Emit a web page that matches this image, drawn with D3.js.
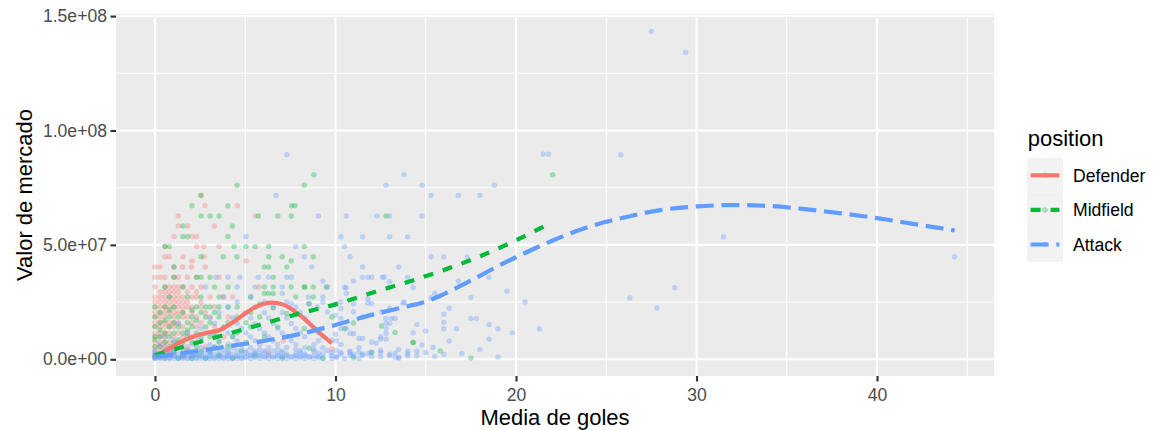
<!DOCTYPE html>
<html>
<head>
<meta charset="utf-8">
<script src="https://cdn.jsdelivr.net/npm/d3@7"></script>
<style>
  body { margin: 0; background: #fff; }
  text { font-family: "Liberation Sans", Arial, sans-serif; }
</style>
</head>
<body>
<svg id="chart" width="1153" height="430"></svg>
<script>
// categories and colours
const positions = ["Defender", "Midfield", "Attack"];
const colors = ["#F8766D", "#00BA38", "#619CFF"];
const dashes = [null, "10,10", "18,7.7"];

// axis ticks
const xTicks = [0, 10, 20, 30, 40];
const xMinor = [5, 15, 25, 35, 45];
const yTicks = [0, 5e7, 1e8, 1.5e8];
const yMinor = [2.5e7, 7.5e7, 1.25e8];
const yTickLabels = ["0.0e+00", "5.0e+07", "1.0e+08", "1.5e+08"];

// points: [media de goles, valor de mercado en millones]
const defender = [
  [2.55,71.6],[2.77,67.1],[4.56,67.1],[1.29,62.6],[5.54,62.6],[1.29,58.3],[1.81,58.3],[3.29,58.3],
  [1.05,53.7],[2.05,53.7],[2.31,53.7],[0.55,49.3],[2.31,49.3],[2.71,49.3],[3.55,49.3],
  [0.55,44.8],[0.79,44.8],[1.55,44.8],[2.71,44.8],[2.05,43],[5.04,43],
  [0,40.3],[0.28,40.3],[1.05,40.3],[1.53,40.3],[2.03,40.3],[2.79,40.3],
  [0,35.9],[0.28,35.9],[0.55,35.9],[1.05,35.9],[1.29,35.9],[1.8,35.9],[2.3,35.9],[3.55,35.9],
  [0,31.6],[0.55,31.6],[0.8,31.6],[1.05,31.6],[1.3,31.6],[1.55,31.6],[2.05,31.6],[2.55,31.6],[5.76,31.6],
  [0.28,29.5],[0.8,29.5],[1.3,29.5],[1.8,29.5],[0.55,29.5],[1.05,29.5],[2.3,29.5],
  [0,27.2],[0.28,27.2],[0.55,27.2],[0.8,27.2],[1.05,27.2],[1.3,27.2],[1.55,27.2],[2.05,27.2],[2.3,27.2],[3.05,27.2],[3.8,27.2],[4.3,27.2],
  [0,25],[0.55,25],[1.05,25],[1.3,25],[1.8,25],[2.55,25],[0.28,25],[0.8,25],[1.55,25],
  [0,22.9],[0.28,22.9],[0.55,22.9],[0.8,22.9],[1.05,22.9],[1.29,22.9],[1.55,22.9],[1.8,22.9],[2.05,22.9],[2.55,22.9],[3.3,22.9],
  [0,20.5],[0.28,20.5],[0.8,20.5],[1.3,20.5],[2.05,20.5],[2.8,20.5],[0.55,20.5],[1.05,20.5],[1.55,20.5],
  [0,18.5],[0.28,18.5],[0.55,18.5],[1.05,18.5],[1.55,18.5],[1.8,18.5],[2.3,18.5],[3.05,18.5],[4.05,18.5],
  [0,16],[0.55,16],[0.8,16],[1.3,16],[2.05,16],[2.55,16],[0.28,16],[1.05,16],
  [0,14.2],[0.28,14.2],[0.55,14.2],[1.05,14.2],[1.55,14.2],[2.3,14.2],[3.3,14.2],[0.8,14.2],
  [0,11.5],[0.28,11.5],[0.8,11.5],[1.3,11.5],[1.8,11.5],[2.8,11.5],[0.55,11.5],
  [0,9.8],[0.55,9.8],[1.05,9.8],[1.55,9.8],[2.05,9.8],[3.8,9.8],[0.28,9.8],
  [0,7.5],[0.28,7.5],[0.8,7.5],[1.3,7.5],[2.3,7.5],[7.1,8],[0.55,7.5],
  [0,5.5],[0.55,5.5],[1.05,5.5],[1.8,5.5],[2.8,5.5],[0.28,5.5],
  [0,3.5],[0.28,3.5],[0.8,3.5],[1.55,3.5],[2.3,3.5],[6.3,3],
  [0,1.9],[0.55,1.9],[1.05,1.9],[2.05,1.9],[9.8,4.5],
  [0,0.8],[0.28,0.8],[0.8,0.8],[1.55,0.8]
];

const midfield = [
  [4.54,76.1],[2.55,71.6],[2.05,67.1],[4.04,67.1],[7.57,67.1],[7.76,67.1],
  [2.55,62.6],[3.05,62.6],[3.55,62.6],[5.72,62.6],[6.8,62.6],[7.55,62.6],[1.55,58.3],[4.28,58.3],
  [1.55,53.7],[1.81,53.7],[4.04,53.7],[0.55,49.3],[0.79,49.3],[4.38,49.3],[5.04,49.3],[5.54,49.3],[6.3,49.3],[8.27,49.3],
  [2.55,44.8],[3.78,44.8],[4.54,44.8],[6.3,44.8],[7.05,44.8],[8.77,44.8],[7.55,43],
  [8.8,80.6],[8.27,76.1],[12.8,62.6],[22.03,80.6],
  [8.77,31.6],[8.27,31.6],[8.77,27.2],[8.55,24.3],[9.5,31.6],[8.27,13.5],[11,15.9],[12.55,14.5],
  [13.3,11.7],[14.3,7.4],[11,0.7],[8.55,4.8],[14.3,7.2],
  [1.05,40.3],[6.06,40.3],[6.3,40.3],[7.3,40.3],
  [1.05,35.9],[2.31,35.9],[2.55,35.9],[3.05,35.9],[6.55,35.9],
  [0.55,31.6],[1.55,31.6],[3.3,31.6],[4.05,31.6],[6.06,31.6],[6.55,31.6],[7.55,31.6],[8.3,31.6],
  [0.8,27.2],[1.8,27.2],[2.55,27.2],[3.55,27.2],[6.06,28.7],[6.3,28.7],[6.55,28.7],[7.8,27.2],[5.3,27.2],[5.8,24.3],
  [0,22.9],[0.55,22.9],[1.05,22.9],[2.3,22.9],[2.8,22.9],[3.05,22.9],[3.55,22.9],[4.05,22.9],[4.55,22.9],[6.55,22.4],
  [0.28,20.5],[1.55,20.5],[2.55,20.5],[3.3,20.5],[5.3,20.5],[7.3,20],[0.8,21.5],[2.05,21.5],
  [0,18.5],[0.8,18.5],[1.3,18.5],[2.05,18.5],[2.8,18.5],[3.55,18.5],[4.55,18.5],[5.8,18.5],[9.8,18.5],
  [0.28,16],[1.05,16],[1.8,16],[3.05,16],[4.05,16],[5.04,16],[0.55,17],[2.3,17],
  [0,14.2],[0.8,14.2],[1.3,14.2],[2.05,14.2],[2.8,14.2],[3.8,14.2],[5.3,14.2],[6.8,14.2],[10.5,13.3],
  [0.55,11.5],[1.05,11.5],[1.55,11.5],[2.3,11.5],[3.3,11.5],[4.55,11.5],[0.28,12.8],[1.8,12.8],
  [0,9.8],[0.28,9.8],[0.8,9.8],[1.8,9.8],[2.55,9.8],[3.05,9.8],[4.3,9.8],[6.06,9.8],
  [0.55,7.5],[1.05,7.5],[1.55,7.5],[2.05,7.5],[3.55,7.5],[5.04,7.5],[0,8.5],[1.3,8.5],
  [0,5.5],[0.28,5.5],[0.8,5.5],[1.3,5.5],[2.3,5.5],[3.3,5.5],[4.05,5.5],
  [0.55,3.5],[1.05,3.5],[1.8,3.5],[2.55,3.5],[3.05,3.5],[4.8,3.5],[12,3],[15.8,3.6],
  [0,1.9],[0.28,1.9],[0.8,1.9],[1.55,1.9],[2.3,1.9],[3.55,1.9],[5.54,1.9],
  [0,0.5],[0.55,0.5],[1.3,0.5],[2.05,0.5],[2.8,0.5],[4.3,0.5],[7.05,0.5],[9.3,0.5],[17.5,0.6]
];

const attack = [
  [27.5,143.2],[29.4,134.2],[25.8,89.4],[21.5,89.6],[21.8,89.6],[7.3,89.4],[13.8,80.6],
  [6.7,71.6],[12.8,76.1],[14.8,76.1],[18.8,76.1],[15.3,71.6],[16.8,71.6],[18.0,71.6],
  [9.05,62.6],[10.6,62.6],[12.3,62.6],[13.0,62.6],[14.8,62.6],
  [10.3,53.6],[11.5,53.6],[13.0,53.6],[14.0,53.6],[5.04,53.7],[31.5,53.6],[44.3,44.8],
  [10.5,49.3],[7.8,49.3],[8.27,44.8],[10.8,44.8],[15.3,44.8],[16.0,44.8],[17.3,44.7],
  [8.68,40.3],[11.5,40.3],[13.5,40.3],
  [11.5,35.9],[11.8,35.9],[12.0,35.9],[12.6,35.9],[12.7,35.9],[14.0,35.9],[18.5,35.9],[7.55,35.9],
  [3.38,35.9],[4.04,35.9],[4.7,35.9],[5.72,35.9],[6.28,35.9],[7.3,35.9],
  [9.3,34.2],[16.8,34.2],[13.0,34],[11.0,34.2],
  [10.5,31.4],[13.0,31.4],[14.3,31.4],[7.05,31.6],[9.55,31.6],[28.8,31.3],[2.8,31.6],[4.55,31.6],[5.54,31.6],[10.6,31.3],
  [15.5,28.8],[19.5,29.7],[17.5,27],[15.3,26.8],[26.3,26.8],[20.5,25],[13.8,24.9],[10.6,28.7],[11.8,26.5],[11.8,24.6],[13.75,24.6],
  [9.3,27.2],[9.3,25],[10.3,25],[7.05,28.7],[7.55,24.3],[8.5,27.2],[8.5,24.3],[10.05,24.3],[11.0,24.3],[12.0,24.3],
  [27.8,22.4],[13.0,22.3],[16.3,22.3],[10.3,22.2],[9.0,22.9],
  [16.0,19.7],[11.0,20.7],[12.56,20.7],[9.55,20.7],[10.0,19.3],
  [17.5,17.8],[17.8,17.8],[13.3,17.8],[11.5,18.5],[12.8,17.8],[13.1,17.8],[10.3,17.8],
  [12.8,15.6],[13.0,15.6],[14.5,15.2],[18.5,15.2],[16.0,16.1],
  [16.0,13.3],[16.7,13.3],[19.0,13.3],[21.3,13.3],[12.8,13.3],[15.0,12.4],[10.3,13.5],[10.6,13.5],
  [14.3,11.6],[19.8,11.6],[10.8,11.3],[11.0,11.3],[12.8,11.3],[10.0,11],
  [12.5,8.8],[12.8,8.8],[16.3,8],[18.5,8.8],[11.3,9.1],[11.5,9.1],[12.5,9.8],[9.8,8.4],
  [12.0,7.6],[12.25,7],[14.8,6.2],[15.4,5.2],[18.0,4.3],[12.5,4],[13.5,4.3],
  [14.0,3.6],[14.5,3.6],[13.3,2.6],[13.0,2.2],[14.0,1.4],[16.0,2.2],[12.5,1.1],[13.5,0.9],
  [9.55,3.8],[9.8,3],[10.05,3.8],[10.3,3],[10.8,3],[11.0,2.2],[11.3,3],[11.5,1.8],[11.8,2.5],[12.0,3],
  [12.5,3],[13.0,1.5],[13.3,0.8],[13.5,0.4],[14.0,2.4],[14.5,1.5],[15.0,3],[15.5,1.2],[17.0,2.5],[19.0,1],
  [0,0.3],[0.28,0.3],[0.55,0.3],[0.8,0.3],[1.05,0.3],[1.3,0.3],[1.55,0.3],[1.8,0.3],[2.05,0.3],[2.3,0.3],
  [2.55,0.3],[2.8,0.3],[3.05,0.3],[3.3,0.3],[3.55,0.3],[3.8,0.3],[4.05,0.3],[4.3,0.3],[4.55,0.3],[4.8,0.3],
  [5.3,0.3],[5.8,0.3],[6.3,0.3],[6.8,0.3],[7.3,0.3],[7.8,0.3],[8.3,0.3],[8.8,0.3],[9.3,0.3],[9.8,0.3],[10.5,0.3],[11.3,0.3],
  [0.28,0.8],[0.8,0.8],[1.3,0.8],[1.8,0.8],[2.3,0.8],[2.8,0.8],[3.3,0.8],[3.8,0.8],[4.3,0.8],[4.8,0.8],
  [5.04,0.8],[5.54,0.8],[6.06,0.8],[6.55,0.8],[7.05,0.8],[7.55,0.8],[8.05,0.8],[8.55,0.8],[9.05,0.8],[10.05,0.8],
  [0,1.2],[0.55,1.2],[1.05,1.2],[1.55,1.2],[2.05,1.2],[2.55,1.2],[3.05,1.2],[3.55,1.2],[4.05,1.2],[4.55,1.2],
  [5.04,1.2],[5.54,1.2],[6.06,1.2],[6.55,1.2],[7.05,1.2],[7.55,1.2],[8.05,1.2],[8.55,1.2],[9.05,1.2],[10.05,1.2],[11.0,1.2],[12.0,1.2],
  [0,1.7],[0.55,1.7],[1.05,1.7],[1.55,1.7],[2.05,1.7],[2.55,1.7],[3.05,1.7],[3.55,1.7],[4.05,1.7],[4.55,1.7],
  [5.3,1.7],[5.8,1.7],[6.3,1.7],[6.8,1.7],[7.3,1.7],[7.8,1.7],[8.3,1.7],[8.8,1.7],[9.8,1.7],[10.8,1.7],
  [0.28,2.3],[0.8,2.3],[1.3,2.3],[1.8,2.3],[2.3,2.3],[2.8,2.3],[3.3,2.3],[3.8,2.3],[4.3,2.3],[4.8,2.3],
  [5.3,2.3],[5.8,2.3],[6.3,2.3],[6.8,2.3],[7.3,2.3],[7.8,2.3],[8.3,2.3],[9.3,2.3],[10.3,2.3],[11.5,2.3],
  [0,2.9],[1.05,2.9],[2.05,2.9],[2.55,2.9],[3.05,2.9],[4.05,2.9],[5.04,2.9],[5.54,2.9],[6.06,2.9],[7.05,2.9],[8.05,2.9],[9.05,2.9],
  [0,3.6],[1.05,3.6],[2.05,3.6],[3.05,3.6],[3.55,3.6],[4.05,3.6],[4.55,3.6],[5.04,3.6],[5.54,3.6],[6.06,3.6],
  [6.55,3.6],[7.05,3.6],[8.05,3.6],[8.8,3.6],[10.8,3.6],
  [0.8,4.3],[1.8,4.3],[2.8,4.3],[3.8,4.3],[4.8,4.3],[5.8,4.3],[6.8,4.3],[7.8,4.3],[8.8,4.3],
  [0.55,5],[1.55,5],[2.55,5],[3.3,5],[4.3,5],[5.3,5],[6.3,5],[7.3,5],[8.3,5],[9.3,5],[11.3,5],
  [0.28,6.5],[2.05,6.5],[3.05,6.5],[4.05,6.5],[4.8,6.5],[5.8,6.5],[6.8,6.5],[7.8,6.5],[8.8,6.5],[10.3,6.5],
  [1.05,8.1],[2.55,8.1],[3.55,8.1],[4.55,8.1],[5.54,8.1],[6.55,8.1],[7.55,8.1],[9.05,8.1],[10.05,8.1],
  [0.55,9.8],[2.3,9.8],[3.3,9.8],[4.3,9.8],[5.3,9.8],[6.3,9.8],[7.3,9.8],[8.3,9.8],[9.3,9.8],
  [1.8,11.5],[3.05,11.5],[4.05,11.5],[5.04,11.5],[6.06,11.5],[7.05,11.5],[8.05,11.5],[9.05,11.5],
  [2.55,13.5],[3.8,13.5],[4.8,13.5],[5.8,13.5],[6.8,13.5],[7.8,13.5],[8.8,13.5],
  [1.3,15.6],[3.3,15.6],[4.55,15.6],[5.54,15.6],[6.55,15.6],[7.55,15.6],
  [3.05,18],[4.3,18],[5.3,18],[6.3,18],[7.3,18],[8.3,18],
  [3.55,20.5],[5.04,20.5],[6.06,20.5],[7.05,20.5],[8.05,20.5],
  [4.05,22.9],[5.54,22.9],[6.55,22.9],[7.8,22.9],
  [4.55,25],[6.06,25],[7.3,25],[3.8,27.2],[5.3,27.2]
];

// smoothed trends: [x, millones]
const defenderSmooth = [[0,1.5],[0.46,3.3],[1.29,7],[2.4,10.6],[3.05,11.8],[3.6,12.8],[4.06,14.9],[4.53,17.3],
  [4.99,20],[5.5,22.6],[6.0,24.2],[6.5,24.8],[7.1,23.9],[8.03,19.3],[8.96,12.7],[9.79,7.0]];
const midfieldSmooth = [[0,1.8],[2,6.5],[4,11],[6,15.5],[8,20],[10,24],[12,29],[14,33.8],[16,39],
  [18,45],[20,52],[22,60]];
const attackSmooth = [[0,1],[2,3.2],[4,5.6],[6,8],[8,11],[10,15],[12,19.4],[14,23.2],[15,25.2],[16,28.5],
  [17,32.4],[18,36.5],[19,40.7],[20,44.6],[21,48.3],[22,51.8],[23,55],[24,57.8],[26,62],[28,65.2],
  [30,66.8],[32,67.4],[34,67],[36,65.6],[38,63.8],[40,61.7],[42,59.2],[44.3,56.3]];

const groups = [
  { name: positions[0], color: colors[0], dash: dashes[0], pts: defender, smooth: defenderSmooth },
  { name: positions[1], color: colors[1], dash: dashes[1], pts: midfield, smooth: midfieldSmooth },
  { name: positions[2], color: colors[2], dash: dashes[2], pts: attack, smooth: attackSmooth }
];

// layout
const panel = { left: 116, right: 994, top: 14, bottom: 376 };
const svg = d3.select("#chart");

const x = d3.scaleLinear().domain([-2.16, 46.48]).range([panel.left, panel.right]);
const y = d3.scaleLinear().domain([-7.3e6, 150.9e6]).range([panel.bottom, panel.top]);

// panel background
svg.append("rect")
  .attr("x", panel.left).attr("y", panel.top)
  .attr("width", panel.right - panel.left).attr("height", panel.bottom - panel.top)
  .attr("fill", "#EBEBEB");

// grid lines
const grid = svg.append("g");
grid.selectAll(".xmin").data(xMinor).join("line")
  .attr("x1", d => x(d)).attr("x2", d => x(d))
  .attr("y1", panel.top).attr("y2", panel.bottom)
  .attr("stroke", "#fff").attr("stroke-width", 1.07);
grid.selectAll(".ymin").data(yMinor).join("line")
  .attr("y1", d => y(d)).attr("y2", d => y(d))
  .attr("x1", panel.left).attr("x2", panel.right)
  .attr("stroke", "#fff").attr("stroke-width", 1.07);
grid.selectAll(".xmaj").data(xTicks).join("line")
  .attr("x1", d => x(d)).attr("x2", d => x(d))
  .attr("y1", panel.top).attr("y2", panel.bottom)
  .attr("stroke", "#fff").attr("stroke-width", 2.13);
grid.selectAll(".ymaj").data(yTicks).join("line")
  .attr("y1", d => y(d)).attr("y2", d => y(d))
  .attr("x1", panel.left).attr("x2", panel.right)
  .attr("stroke", "#fff").attr("stroke-width", 2.13);

// points
groups.forEach(g => {
  svg.append("g").selectAll("circle").data(g.pts).join("circle")
    .attr("cx", d => x(d[0]))
    .attr("cy", d => y(d[1] * 1e6))
    .attr("r", 2.75)
    .attr("fill", g.color)
    .attr("fill-opacity", 0.33);
});

// smooth lines
const line = d3.line()
  .x(d => x(d[0]))
  .y(d => y(d[1] * 1e6))
  .curve(d3.curveMonotoneX);

groups.forEach(g => {
  svg.append("path")
    .datum(g.smooth)
    .attr("d", line)
    .attr("fill", "none")
    .attr("stroke", g.color)
    .attr("stroke-width", 4.2)
    .attr("stroke-dasharray", g.dash);
});

// axes
const xAxis = svg.append("g")
  .attr("transform", `translate(0,${panel.bottom})`)
  .call(d3.axisBottom(x).tickValues(xTicks).tickSize(5.5).tickPadding(7.3));
const yAxis = svg.append("g")
  .attr("transform", `translate(${panel.left},0)`)
  .call(d3.axisLeft(y).tickValues(yTicks).tickSize(5.5).tickPadding(3.5)
    .tickFormat((d, i) => yTickLabels[i]));

[xAxis, yAxis].forEach(a => {
  a.select(".domain").remove();
  a.selectAll(".tick line").attr("stroke", "#333333").attr("stroke-width", 2.13);
  a.selectAll(".tick text")
    .attr("fill", "#4D4D4D")
    .style("font-size", "17.6px")
    .style("font-family", "'Liberation Sans', Arial, sans-serif");
});

// axis titles
svg.append("text")
  .attr("x", (panel.left + panel.right) / 2).attr("y", 425)
  .attr("text-anchor", "middle")
  .style("font-size", "22px")
  .text("Media de goles");

svg.append("text")
  .attr("transform", `translate(32,${(panel.top + panel.bottom) / 2}) rotate(-90)`)
  .attr("text-anchor", "middle")
  .style("font-size", "22px")
  .text("Valor de mercado");

// legend
const legend = svg.append("g").attr("transform", "translate(1027,158)");
legend.append("text")
  .attr("x", 0.7).attr("y", -12)
  .style("font-size", "22px")
  .text("position");

const keyW = 36, keyH = 34.6;
groups.forEach((g, i) => {
  const k = legend.append("g").attr("transform", `translate(0,${i * keyH})`);
  k.append("rect").attr("width", keyW).attr("height", keyH).attr("fill", "#F2F2F2");
  k.append("circle").attr("cx", keyW / 2).attr("cy", keyH / 2).attr("r", 2.75)
    .attr("fill", g.color).attr("fill-opacity", 0.33);
  k.append("line")
    .attr("x1", 3.6).attr("x2", keyW - 3.6)
    .attr("y1", keyH / 2).attr("y2", keyH / 2)
    .attr("stroke", g.color).attr("stroke-width", 4.2)
    .attr("stroke-dasharray", g.dash);
  k.append("text")
    .attr("x", 46).attr("y", keyH / 2).attr("dy", "0.36em")
    .style("font-size", "17.6px")
    .text(g.name);
});
</script>
</body>
</html>
